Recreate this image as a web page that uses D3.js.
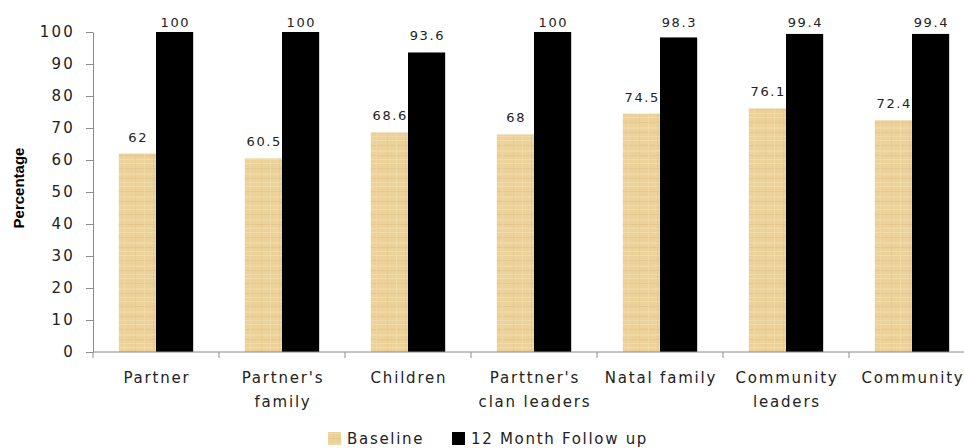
<!DOCTYPE html>
<html>
<head>
<meta charset="utf-8">
<script src="https://cdn.jsdelivr.net/npm/d3@7"></script>
<style>
  html, body { margin: 0; padding: 0; background: #fff; }
  svg { display: block; }
</style>
</head>
<body>
<svg id="chart" width="964" height="448"></svg>
<script>
// Categories (x axis), with line breaks for wrapped labels
const categories = [
  ["Partner"],
  ["Partner's", "family"],
  ["Children"],
  ["Parttner's", "clan leaders"],
  ["Natal family"],
  ["Community", "leaders"],
  ["Community"]
];
const seriesNames = ["Baseline", "12 Month Follow up"];
const baseline = [62, 60.5, 68.6, 68, 74.5, 76.1, 72.4];
const followUp = [100, 100, 93.6, 100, 98.3, 99.4, 99.4];
const yTicks = [0, 10, 20, 30, 40, 50, 60, 70, 80, 90, 100];

const svg = d3.select("#chart");
const FONT = "'DejaVu Sans', Verdana, sans-serif";
const margin = { left: 93, top: 32 };
const plotBottom = 352;
const plotRight = 975; // the category axis runs past the right edge

// Paper-like texture for the baseline bars
const defs = svg.append("defs");
const pat = defs.append("pattern")
  .attr("id", "paper")
  .attr("patternUnits", "userSpaceOnUse")
  .attr("width", 37).attr("height", 23);
pat.append("rect").attr("width", 37).attr("height", 23).attr("fill", "#ECD199");
const streaks = [
  [0, 2, 37, 1, "#F3DEAE", 0.8], [0, 7, 37, 1, "#E3C58B", 0.7],
  [0, 12, 37, 2, "#F1DAA8", 0.8], [0, 17, 37, 1, "#E0C288", 0.6],
  [0, 21, 37, 1, "#F4E0B3", 0.7], [5, 0, 1, 23, "#E4C88F", 0.5],
  [14, 0, 1, 23, "#F2DDAC", 0.6], [23, 0, 1, 23, "#E2C58D", 0.5],
  [31, 0, 1, 23, "#F1DBA9", 0.6]
];
streaks.forEach(([x, y, w, h, c, o]) => {
  pat.append("rect").attr("x", x).attr("y", y).attr("width", w).attr("height", h)
    .attr("fill", c).attr("opacity", o);
});

const x0 = d3.scaleBand()
  .domain(d3.range(categories.length))
  .range([margin.left, plotRight])
  .padding(0);
// the two bars of a group fill the middle ~59% of each band
const x1 = d3.scaleBand()
  .domain([0, 1])
  .range([x0.bandwidth() * 0.205, x0.bandwidth() * 0.795])
  .padding(0);

const y = d3.scaleLinear().domain([0, 100]).range([plotBottom, margin.top]);

// Y axis
const yAxis = svg.append("g")
  .attr("transform", `translate(${margin.left},0)`)
  .call(d3.axisLeft(y).tickValues(yTicks).tickSize(7).tickPadding(11).tickSizeOuter(0));
yAxis.select(".domain").attr("stroke", "#8c8c8c");
yAxis.selectAll(".tick line").attr("stroke", "#8c8c8c");
yAxis.selectAll(".tick text")
  .attr("font-family", FONT)
  .attr("font-size", 15).attr("fill", "#222").attr("letter-spacing", 2.2);

// Y axis title
svg.append("text")
  .attr("transform", "translate(24,188) rotate(-90)")
  .attr("text-anchor", "middle")
  .attr("font-family", "'Liberation Sans Narrow', 'Liberation Sans', Arial, sans-serif")
  .attr("font-weight", "bold").attr("font-size", 15).attr("fill", "#000")
  .text("Percentage");

// Bars
const groups = svg.append("g").selectAll("g")
  .data(categories.map((c, i) => ({ i, vals: [baseline[i], followUp[i]] })))
  .join("g")
  .attr("transform", d => `translate(${x0(d.i)},0)`);

groups.selectAll("rect")
  .data(d => d.vals.map((v, k) => ({ v, k })))
  .join("rect")
  .attr("x", d => x1(d.k))
  .attr("width", x1.bandwidth())
  .attr("y", d => y(d.v))
  .attr("height", d => y(0) - y(d.v))
  .attr("fill", d => d.k === 0 ? "url(#paper)" : "#000");

// Value labels sit above each bar, kept inside the top of the plot
groups.selectAll("text.val")
  .data(d => d.vals.map((v, k) => ({ v, k })))
  .join("text")
  .attr("class", "val")
  .attr("x", d => x1(d.k) + x1.bandwidth() / 2 + 0.8)
  .attr("y", d => Math.max(y(d.v) - 12, 27))
  .attr("text-anchor", "middle")
  .attr("font-family", FONT)
  .attr("font-size", 13).attr("fill", "#222").attr("letter-spacing", 1.6)
  .text(d => d.v);

// X axis
const xAxis = svg.append("g")
  .attr("transform", `translate(0,${plotBottom})`);
xAxis.append("line")
  .attr("x1", margin.left).attr("x2", plotRight)
  .attr("stroke", "#8c8c8c");
xAxis.selectAll("line.tk")
  .data(d3.range(categories.length + 1))
  .join("line").attr("class", "tk")
  .attr("x1", i => margin.left + i * x0.bandwidth())
  .attr("x2", i => margin.left + i * x0.bandwidth())
  .attr("y1", 0).attr("y2", 6)
  .attr("stroke", "#8c8c8c");

const xl = svg.append("g").selectAll("text")
  .data(categories.map((c, i) => ({ c, i })))
  .join("text")
  .attr("text-anchor", "middle")
  .attr("font-family", FONT)
  .attr("font-size", 15).attr("fill", "#222").attr("letter-spacing", 1.8)
  .attr("transform", d => `translate(${x0(d.i) + x0.bandwidth() / 2 + 1},383)`);
xl.selectAll("tspan")
  .data(d => d.c)
  .join("tspan")
  .attr("x", 0)
  .attr("dy", (t, j) => j === 0 ? 0 : 24)
  .text(t => t);

// Legend
const legend = svg.append("g").attr("transform", "translate(328,431)");
const legendItems = [
  { name: seriesNames[0], fill: "url(#paper)", x: 0 },
  { name: seriesNames[1], fill: "#000", x: 124 }
];
legendItems.forEach(it => {
  legend.append("rect").attr("x", it.x).attr("y", 1).attr("width", 13).attr("height", 13)
    .attr("fill", it.fill);
  legend.append("text").attr("x", it.x + 19).attr("y", 13)
    .attr("font-family", FONT)
    .attr("font-size", 15).attr("fill", "#222").attr("letter-spacing", 1.7)
    .text(it.name);
});
</script>
</body>
</html>
